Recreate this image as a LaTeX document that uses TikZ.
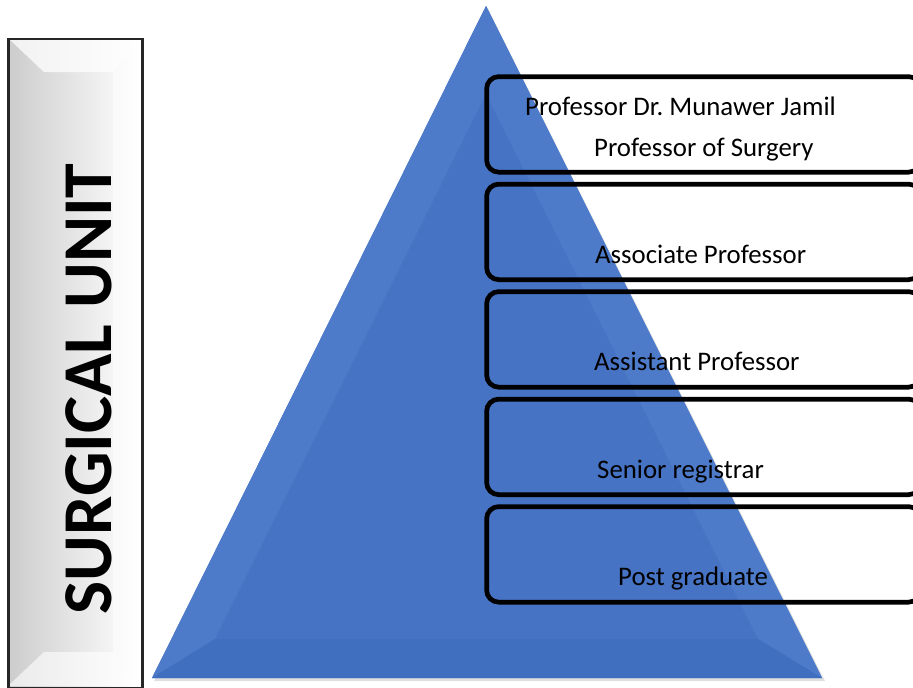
\documentclass[tikz,border=0pt]{standalone}
\usepackage{fontspec}
\newfontfamily\calibri{Carlito}
\definecolor{triMain}{HTML}{4673C3}
\definecolor{triLeft}{HTML}{4E7BC9}
\definecolor{triRight}{HTML}{4D7BCA}
\definecolor{triBottom}{HTML}{406FC0}
\tikzset{
  rankbox/.style={draw=black, line width=4.7pt, rounded corners=12pt, rectangle,
    minimum width=434pt, minimum height=95.5pt, inner sep=0pt, anchor=north west},
  ranktext/.style={font=\calibri\fontsize{26.8}{30}\selectfont, inner sep=0pt, anchor=base west, text=black},
}
\frenchspacing
\begin{document}
\begin{tikzpicture}[x=1pt, y=-1pt]
\useasboundingbox (0,0) rectangle (913,688);
\clip (0,0) rectangle (913,688);
% left label panel
\shade[left color=black!20, right color=white] (8,38) rectangle (140,686);
\fill[white, opacity=0.75] (8,38) -- (140,38) -- (113,72) -- (44,72) -- cycle;
\fill[white, opacity=0.6] (8,686) -- (140,686) -- (113,652) -- (44,652) -- cycle;
\fill[white, opacity=0.5] (140,38) -- (113,72) -- (113,652) -- (140,686) -- cycle;
\node[draw=black!85, line width=2.5pt, minimum width=134pt, minimum height=649pt, inner sep=0pt, anchor=north west] (panel) at (7,37.5) {};
\node[font=\calibri\bfseries\fontsize{70}{72}\selectfont, rotate=90, anchor=base, inner sep=0pt] (unit) at (111,389) {SURGICAL UNIT};
% pyramid shadow
\fill[black, opacity=0.12] (488,9) -- (825,681) -- (154,681) -- cycle;
% pyramid
\fill[triMain] (486,6) -- (822,678) -- (152,678) -- cycle;
\fill[triLeft] (486,6) -- (486,94) -- (215,639) -- (152,678) -- cycle;
\fill[triRight] (486,6) -- (822,678) -- (758,639) -- (486,94) -- cycle;
\fill[triBottom] (152,678) -- (215,639) -- (758,639) -- (822,678) -- cycle;
% rank boxes
\node[rankbox] (b1) at (484.3,74.3) {};
\node[rankbox] (b2) at (484.3,181.8) {};
\node[rankbox] (b3) at (484.3,289.3) {};
\node[rankbox] (b4) at (484.3,396.8) {};
\node[rankbox] (b5) at (484.3,504.3) {};
% texts
\node[ranktext] (t1a) at (525,115) {Professor Dr. Munawer Jamil};
\node[ranktext] (t1b) at (594,156) {Professor of Surgery};
\node[ranktext] (t2) at (595,263.3) {Associate Professor};
\node[ranktext] (t3) at (594,370) {Assistant Professor};
\node[ranktext] (t4) at (597,478.3) {Senior registrar};
\node[ranktext] (t5) at (618,585) {Post graduate};
\end{tikzpicture}
\end{document}
